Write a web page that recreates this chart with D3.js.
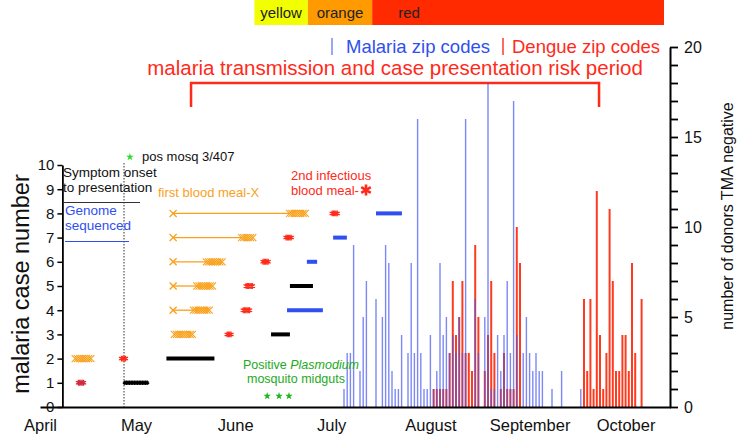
<!DOCTYPE html>
<html>
<head>
<meta charset="UTF-8">
<script src="https://d3js.org/d3.v7.min.js"></script>
<style>
  body { margin: 0; background: #fff; }
  svg { font-family: "Liberation Sans", Arial, sans-serif; }
</style>
</head>
<body>
<svg id="chart" width="738" height="439"></svg>
<script>
// x axis: days counted from April 1
let monthNames = ["April", "May", "June", "July", "August", "September", "October"];
let monthDays = [0, 30, 61, 91, 122, 153, 183];

// top risk colour bar
let riskLabels = ["yellow", "orange", "red"];
let riskColors = ["#f2ff00", "#ff9a00", "#ff2a00"];
let riskStart = [67, 83.7, 103.8];
let riskEnd = [83.7, 103.8, 195];
let riskPeriod = [47.2, 174.7];

// malaria cases 1-8 (days from April 1)
let caseRows = [1, 2, 3, 4, 5, 6, 7, 8];
let firstMealX = [null, null, null, 41.6, 41.6, 41.6, 41.6, 41.6];
let firstMealStart = [null, 11, 42, 48, 49, 52, 63, 78];
let firstMealEnd = [null, 16, 48, 53, 54, 57, 67, 83];
let secondMealStart = [12, 25.5, 58.5, 63.5, 64.4, 69.7, 76.9, 91.3];
let secondMealEnd = [13.6, 27, 60, 65.6, 66.5, 71.5, 78.7, 93.1];
let onsetStart = [26.5, 39.5, 72.2, null, 78.1, null, null, null];
let onsetEnd = [33.5, 54.5, 78.1, null, 85.3, null, null, null];
let genomeStart = [null, null, null, 77.2, null, 83.4, 91.6, 105];
let genomeEnd = [null, null, null, 88.4, null, 86.6, 95.9, 113.1];

// positive mosquitoes
let posMosqDay = [28.1];
let midgutDays = [71, 74.7, 77.8];

// donors TMA negative by zip code, per day
let malariaDays = [95, 96, 97, 98, 100, 101, 102, 105, 107, 108, 109, 110, 111, 112, 113, 115, 116, 117, 118, 119, 120,
  121, 122, 123, 124, 125, 126, 127, 128, 129, 130, 131, 132, 133, 136, 137, 139, 140, 141, 142, 143, 144, 145, 146,
  147, 148, 149, 151, 152, 153, 154, 155, 156, 157, 160, 163, 169];
let malariaCounts = [1, 3, 3, 9, 2, 5, 7, 6, 5, 9, 8, 2, 1, 1, 4, 3, 8, 3, 16, 3, 1,
  1, 4, 1, 2, 8, 4, 5, 3, 4, 3, 5, 3, 16, 6, 3, 5, 18, 1, 1, 4, 2, 4, 7,
  3, 17, 4, 3, 5, 3, 2, 3, 2, 2, 1, 2, 1];
let dengueDays = [123, 124, 125, 126, 127, 128, 129, 130, 131, 132, 133, 134, 135, 136, 137, 139, 140, 141, 142, 144,
  145, 146, 147, 148, 149, 150, 170, 171, 172, 173, 174, 175, 176, 177, 178, 179, 180, 181, 182, 183, 184, 185, 186, 188];
let dengueCounts = [1, 1, 1, 1, 1, 3, 7, 4, 5, 7, 3, 3, 2, 9, 5, 2, 4, 7, 3, 1,
  3, 1, 1, 1, 10, 8, 6, 2, 6, 1, 12, 4, 1, 3, 11, 7, 2, 2, 4, 4, 2, 8, 3, 6];

let orange = "#f9a11b";
let red = "#ff2a1a";
let blue = "#2f4ff0";

let svg = d3.select("#chart");
let x = d3.scaleLinear().domain([0, 197]).range([40, 670.4]);
let yL = d3.scaleLinear().domain([0, 10]).range([407, 165]);
let yR = d3.scaleLinear().domain([0, 20]).range([407, 47]);

// risk colour bar
let bar = svg.append("g");
bar.selectAll("rect").data(riskLabels).join("rect")
  .attr("x", (d, i) => x(riskStart[i]))
  .attr("width", (d, i) => x(riskEnd[i]) - x(riskStart[i]))
  .attr("y", 0).attr("height", 25)
  .attr("fill", (d, i) => riskColors[i]);
bar.selectAll("text").data(riskLabels).join("text")
  .attr("x", (d, i) => i < 2 ? (x(riskStart[i]) + x(riskEnd[i])) / 2 : x(riskStart[i]) + 26)
  .attr("text-anchor", (d, i) => i < 2 ? "middle" : "start")
  .attr("y", 18).attr("font-size", 15).attr("fill", "#222")
  .text(d => d);

// legend for histogram
svg.append("line").attr("x1", 332).attr("x2", 332).attr("y1", 38).attr("y2", 55)
  .attr("stroke", "#5b6cf0").attr("stroke-width", 1.2);
svg.append("text").attr("x", 346).attr("y", 53).attr("font-size", 18.5).attr("fill", blue).text("Malaria zip codes");
svg.append("line").attr("x1", 503).attr("x2", 503).attr("y1", 38).attr("y2", 55)
  .attr("stroke", red).attr("stroke-width", 1.4);
svg.append("text").attr("x", 512).attr("y", 53).attr("font-size", 18.5).attr("fill", red).text("Dengue zip codes");

// risk period bracket
svg.append("text").attr("x", (x(riskPeriod[0]) + x(riskPeriod[1])) / 2).attr("y", 75)
  .attr("text-anchor", "middle").attr("font-size", 20.5).attr("fill", red)
  .text("malaria transmission and case presentation risk period");
svg.append("path")
  .attr("d", `M${x(riskPeriod[0])},107V83H${x(riskPeriod[1])}V107`)
  .attr("fill", "none").attr("stroke", red).attr("stroke-width", 2.5);

// histogram bars: dengue first, malaria on top (semi-transparent)
svg.append("g").selectAll("line").data(dengueDays).join("line")
  .attr("x1", d => x(d)).attr("x2", d => x(d))
  .attr("y1", yR(0)).attr("y2", (d, i) => yR(dengueCounts[i]))
  .attr("stroke", "#ff3b1f").attr("stroke-width", 2);
svg.append("g").selectAll("line").data(malariaDays).join("line")
  .attr("x1", d => x(d)).attr("x2", d => x(d))
  .attr("y1", yR(0)).attr("y2", (d, i) => yR(malariaCounts[i]))
  .attr("stroke", "#4658ee").attr("stroke-width", 1.4).attr("opacity", 0.7);

// axes
let gx = svg.append("g").attr("transform", `translate(0,${yL(0)})`)
  .call(d3.axisBottom(x).tickValues(monthDays).tickFormat((d, i) => monthNames[i])
    .tickSize(0).tickPadding(12).tickSizeOuter(0));
gx.select(".domain").attr("stroke-width", 2);
gx.selectAll("text").attr("font-size", 16.5).attr("fill", "#111").attr("font-family", null);

let gl = svg.append("g").attr("transform", `translate(${x(7)},0)`)
  .call(d3.axisLeft(yL).ticks(10).tickSize(5).tickPadding(3).tickSizeOuter(0));
gl.select(".domain").attr("stroke-width", 1.8);
gl.selectAll(".tick line").attr("stroke-width", 1.5);
gl.selectAll("text").attr("font-size", 15).attr("fill", "#111").attr("font-family", null);

let gr = svg.append("g").attr("transform", `translate(670,0)`)
  .call(d3.axisRight(yR).tickValues(d3.range(0, 21)).tickSize(8).tickPadding(6).tickSizeOuter(0)
    .tickFormat(d => d % 5 === 0 ? d : ""));
gr.select(".domain").attr("stroke-width", 2);
gr.selectAll(".tick line").attr("stroke-width", 1.8);
gr.selectAll("text").attr("font-size", 16).attr("fill", "#111").attr("font-family", null);

svg.append("text").attr("transform", `translate(29,284) rotate(-90)`)
  .attr("text-anchor", "middle").attr("font-size", 23.5).attr("fill", "#111")
  .text("malaria case number");
svg.append("text").attr("transform", `translate(733,216) rotate(-90)`)
  .attr("text-anchor", "middle").attr("font-size", 16).attr("fill", "#111")
  .text("number of donors TMA negative");

// dotted reference line (May onset)
svg.append("line").attr("x1", 124).attr("x2", 124).attr("y1", 163).attr("y2", yL(0))
  .attr("stroke", "#333").attr("stroke-width", 1).attr("stroke-dasharray", "1.5,1.5");

// case rows
let symX = d3.symbol().type(d3.symbolX).size(34)();
let symAst = d3.symbol().type(d3.symbolAsterisk).size(24)();
let symAstSmall = d3.symbol().type(d3.symbolAsterisk).size(13)();
let rows = svg.append("g");

caseRows.forEach((r, i) => {
  let cy = yL(r);
  // first blood meal: X marker plus connecting line
  if (firstMealX[i] !== null) {
    rows.append("line").attr("x1", x(firstMealX[i])).attr("x2", x(firstMealStart[i]))
      .attr("y1", cy).attr("y2", cy).attr("stroke", orange).attr("stroke-width", 1.3);
    rows.append("path").attr("d", symX).attr("transform", `translate(${x(firstMealX[i])},${cy})`)
      .attr("stroke", orange).attr("stroke-width", 1.3).attr("fill", "none");
  }
  if (firstMealStart[i] !== null) {
    rows.selectAll(null).data(d3.range(firstMealStart[i], firstMealEnd[i] + 0.01, 0.7)).join("path")
      .attr("d", symX).attr("transform", d => `translate(${x(d)},${cy})`)
      .attr("stroke", orange).attr("stroke-width", 1.1).attr("fill", "none");
  }
  // second infectious blood meal
  rows.selectAll(null).data(d3.range(secondMealStart[i], secondMealEnd[i] + 0.01, 0.4)).join("path")
    .attr("d", symAst).attr("transform", d => `translate(${x(d)},${cy})`)
    .attr("stroke", i === 0 ? "#d42a40" : red).attr("stroke-width", 1.2).attr("fill", "none");
  // symptom onset to presentation
  if (onsetStart[i] !== null) {
    if (r === 1) {
      rows.selectAll(null).data(d3.range(onsetStart[i], onsetEnd[i] + 0.01, 0.5)).join("path")
        .attr("d", symAstSmall).attr("transform", d => `translate(${x(d)},${cy})`)
        .attr("stroke", "#000").attr("stroke-width", 1.3).attr("fill", "none");
    } else {
      rows.append("line").attr("x1", x(onsetStart[i])).attr("x2", x(onsetEnd[i]))
        .attr("y1", cy).attr("y2", cy).attr("stroke", "#000").attr("stroke-width", 4);
    }
  }
  // genome sequenced
  if (genomeStart[i] !== null) {
    rows.append("line").attr("x1", x(genomeStart[i])).attr("x2", x(genomeEnd[i]))
      .attr("y1", cy).attr("y2", cy).attr("stroke", blue).attr("stroke-width", 4);
  }
});

// mosquito markers
let star = d3.symbol().type(d3.symbolStar).size(18)();
svg.append("g").selectAll("path").data(posMosqDay).join("path")
  .attr("d", star).attr("transform", d => `translate(${x(d)},157)`).attr("fill", "#2bdc2b");
svg.append("g").selectAll("path").data(midgutDays).join("path")
  .attr("d", star).attr("transform", d => `translate(${x(d)},${yL(0.45)})`).attr("fill", "#1fb51f");

// annotations
let note = (tx, ty, txt, col, size) => svg.append("text").attr("x", tx).attr("y", ty)
  .attr("font-size", size).attr("fill", col).text(txt);
note(142, 161, "pos mosq 3/407", "#111", 13);
note(63, 177, "Symptom onset", "#111", 13.5);
note(63, 192, "to presentation", "#111", 13.5);
svg.append("line").attr("x1", 63).attr("x2", 140).attr("y1", 202.5).attr("y2", 202.5)
  .attr("stroke", "#333").attr("stroke-width", 1.2);
note(65, 215, "Genome", blue, 13.5);
note(65, 230, "sequenced", blue, 13.5);
svg.append("line").attr("x1", 65).attr("x2", 129).attr("y1", 241.5).attr("y2", 241.5)
  .attr("stroke", blue).attr("stroke-width", 1.2);
note(158, 197, "first blood meal-X", orange, 13);
note(291, 180, "2nd infectious", red, 13);
note(291, 195, "blood meal-", red, 13);
svg.append("path").attr("d", d3.symbol().type(d3.symbolAsterisk).size(85)())
  .attr("transform", "translate(366,190)").attr("stroke", red).attr("stroke-width", 2.6);

let pos = svg.append("text").attr("x", 243).attr("y", 369).attr("font-size", 12.5).attr("fill", "#22aa22");
pos.append("tspan").text("Positive ");
pos.append("tspan").attr("font-style", "italic").text("Plasmodium");
note(247, 383, "mosquito midguts", "#22aa22", 12.5);
</script>
</body>
</html>
